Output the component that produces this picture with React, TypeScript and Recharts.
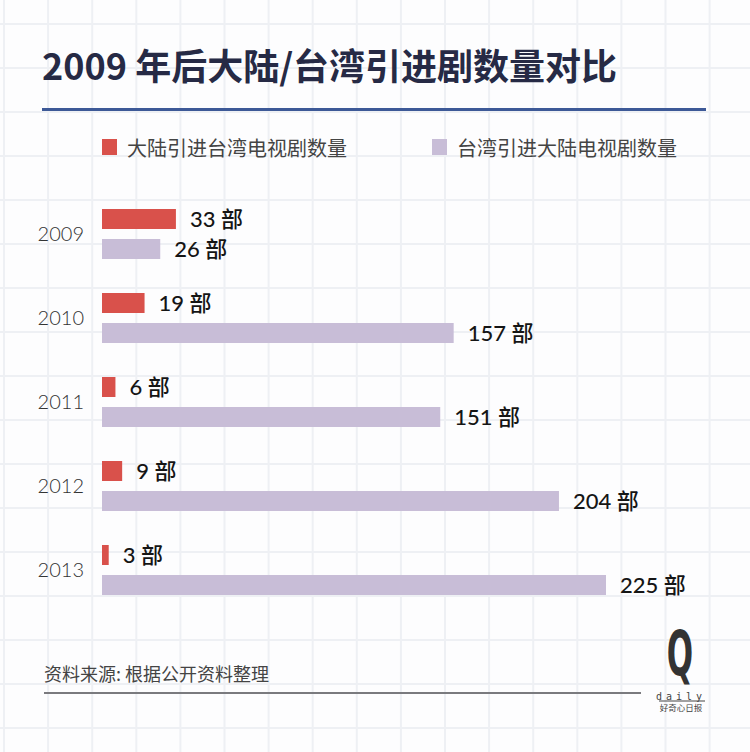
import { BarChart, Bar, XAxis, YAxis, LabelList } from 'recharts';

const years = ['2009', '2010', '2011', '2012', '2013'];
const mainlandImports = [33, 19, 6, 9, 3];
const taiwanImports = [26, 157, 151, 204, 225];
const seriesNames = ['大陆引进台湾电视剧数量', '台湾引进大陆电视剧数量'];
const seriesColors = ['#d9514b', '#c8bdd7'];

const data = years.map((year, i) => ({
    year,
    mainland: mainlandImports[i],
    taiwan: taiwanImports[i],
}));

const cjk = '"Noto Sans CJK SC", "Noto Sans", sans-serif';
const digits = 'Lato, "Noto Sans CJK SC", sans-serif';

const gridX = Array.from({ length: 18 }, (_, i) => 4 + i * 44.1);
const gridY = Array.from({ length: 17 }, (_, i) => 24 + i * 44);

export default function App() {
    return (
        <div style={{ position: 'relative', width: 750, height: 752, background: '#fdfdfe', overflow: 'hidden' }}>
            <style>{'body{margin:0}'}</style>

            {/* background grid */}
            <svg width={750} height={752} style={{ position: 'absolute', left: 0, top: 0 }}>
                {gridX.map((x) => (
                    <line key={'v' + x} x1={x} x2={x} y1={0} y2={752} stroke="#eef0f4" strokeWidth={2} />
                ))}
                {gridY.map((y) => (
                    <line key={'h' + y} x1={0} x2={750} y1={y} y2={y} stroke="#eef0f4" strokeWidth={2} />
                ))}
            </svg>

            <div style={{
                position: 'absolute', left: 42, top: 40, fontFamily: cjk, fontWeight: 700,
                fontSize: 36, lineHeight: '48px', color: '#262a45', whiteSpace: 'nowrap'
            }}>
                2009 年后大陆/台湾引进剧数量对比
            </div>
            <div style={{ position: 'absolute', left: 42, top: 108, width: 664, height: 3, background: '#3d5997' }} />

            {seriesNames.map((name, i) => (
                <div key={name} style={{
                    position: 'absolute', left: i === 0 ? 102 : 432, top: 134, display: 'flex',
                    alignItems: 'center', fontFamily: cjk, fontSize: 20, color: '#444', whiteSpace: 'nowrap',
                    height: 26
                }}>
                    <span style={{ display: 'inline-block', width: 15, height: 16, background: seriesColors[i], marginRight: 10 }} />
                    {name}
                </div>
            ))}

            <div style={{ position: 'absolute', left: 0, top: 0 }}>
                <BarChart
                    width={750}
                    height={752}
                    data={data}
                    layout="vertical"
                    margin={{ top: 192, right: 88, bottom: 140, left: 0 }}
                    barSize={20}
                    barGap={10}
                >
                    <XAxis type="number" domain={[0, 250]} hide />
                    <YAxis
                        type="category"
                        dataKey="year"
                        width={102}
                        axisLine={false}
                        tickLine={false}
                        tickSize={0}
                        tickMargin={18}
                        tick={{ fontFamily: digits, fontSize: 20, fontWeight: 300, fill: '#333' }}
                    />
                    <Bar dataKey="mainland" fill={seriesColors[0]} isAnimationActive={false}>
                        <LabelList
                            dataKey="mainland"
                            position="right"
                            offset={14}
                            formatter={(v: number) => `${v} 部`}
                            style={{ fontFamily: digits, fontSize: 22, fontWeight: 500, fill: '#151515' }}
                        />
                    </Bar>
                    <Bar dataKey="taiwan" fill={seriesColors[1]} isAnimationActive={false}>
                        <LabelList
                            dataKey="taiwan"
                            position="right"
                            offset={14}
                            formatter={(v: number) => `${v} 部`}
                            style={{ fontFamily: digits, fontSize: 22, fontWeight: 500, fill: '#151515' }}
                        />
                    </Bar>
                </BarChart>
            </div>

            <div style={{
                position: 'absolute', left: 44, top: 660, fontFamily: cjk, fontSize: 18,
                lineHeight: '26px', color: '#444', whiteSpace: 'nowrap'
            }}>
                资料来源: 根据公开资料整理
            </div>
            <div style={{ position: 'absolute', left: 44, top: 692, width: 597, height: 2, background: '#7a7a7e' }} />

            {/* Q daily logo */}
            <svg width={70} height={130} style={{ position: 'absolute', left: 647, top: 595 }}>
                <g transform="translate(33,0) scale(0.5,1)">
                    <text x={0} y={80} textAnchor="middle" fontSize={62} fontWeight={700}
                        fontFamily='"DejaVu Sans", sans-serif' fill="#333">Q</text>
                </g>
                <text x={34} y={105} textAnchor="middle" fontSize={10} fill="#444"
                    fontFamily='"DejaVu Sans Mono", monospace' letterSpacing={4}>daily</text>
                <line x1={12} x2={58} y1={106} y2={106} stroke="#444" strokeWidth={1} />
                <text x={34} y={116} textAnchor="middle" fontSize={8.5} fill="#444" fontFamily={cjk}>好奇心日报</text>
            </svg>
        </div>
    );
}
